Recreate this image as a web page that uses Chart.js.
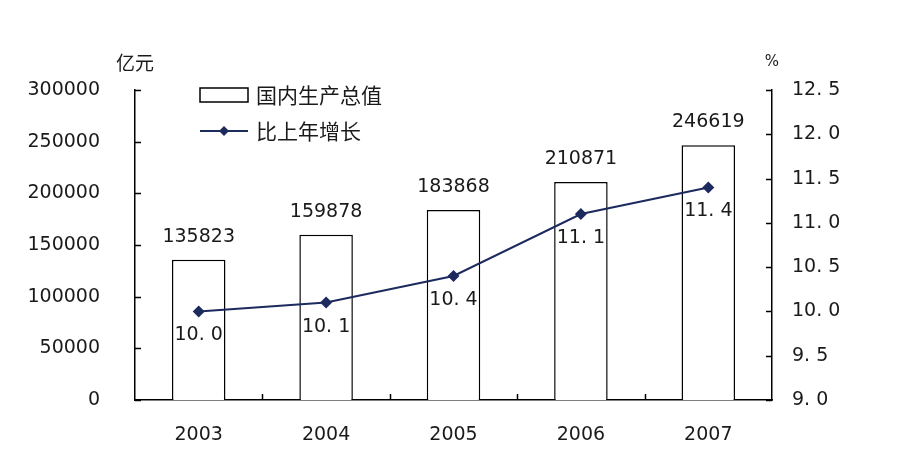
<!DOCTYPE html>
<html>
<head>
<meta charset="utf-8">
<script src="https://cdn.jsdelivr.net/npm/chart.js@4.4.1/dist/chart.umd.min.js"></script>
<style>
  html, body { margin: 0; padding: 0; background: #fff; }
  #wrap { width: 920px; height: 473px; }
</style>
</head>
<body>
<div id="wrap"><canvas id="grafica" width="920" height="473"></canvas></div>
<script>
const years = ['2003', '2004', '2005', '2006', '2007'];
const gdpValues = [135823, 159878, 183868, 210871, 246619];   // 亿元
const growthValues = [10.0, 10.1, 10.4, 11.1, 11.4];          // %
const gdpLabel = '国内生产总值';
const growthLabel = '比上年增长';

const lineColor = '#1c2a5e';
const numFont = '"DejaVu Sans", sans-serif';
const cjkFont = '"Noto Sans CJK SC", sans-serif';

function fmtPct(v) {
    return v.toFixed(1).replace('.', '. ');
}

// etiquetas, marcas interiores, leyenda y unidades
const extras = {
    id: 'extras',
    afterDatasetsDraw(chart) {
        const c = chart.ctx;
        const area = chart.chartArea;
        const y = chart.scales.y, y1 = chart.scales.y1;
        c.save();
        c.strokeStyle = '#000';
        c.lineWidth = 1.5;

        // marcas hacia dentro
        c.beginPath();
        y.ticks.forEach(t => {
            const py = Math.round(y.getPixelForValue(t.value)) + 0.5;
            c.moveTo(area.left, py); c.lineTo(area.left + 6, py);
        });
        y1.ticks.forEach(t => {
            const py = Math.round(y1.getPixelForValue(t.value)) + 0.5;
            c.moveTo(area.right, py); c.lineTo(area.right - 6, py);
        });
        const step = (area.right - area.left) / years.length;
        for (let i = 1; i < years.length; i++) {
            const px = Math.round(area.left + step * i) + 0.5;
            c.moveTo(px, area.bottom); c.lineTo(px, area.bottom - 6);
        }
        c.stroke();

        // valores
        c.fillStyle = '#1a1a1a';
        c.textAlign = 'center';
        c.textBaseline = 'middle';
        c.font = '19px ' + numFont;
        chart.getDatasetMeta(1).data.forEach((bar, i) => {
            c.fillText(String(gdpValues[i]), bar.x, bar.y - 23);
        });
        chart.getDatasetMeta(0).data.forEach((pt, i) => {
            c.fillText(fmtPct(growthValues[i]), pt.x, pt.y + 24);
        });

        // leyenda
        c.strokeRect(200, 88, 48, 14);
        c.strokeStyle = lineColor;
        c.lineWidth = 2;
        c.beginPath(); c.moveTo(200, 131); c.lineTo(248, 131); c.stroke();
        c.fillStyle = lineColor;
        c.beginPath();
        c.moveTo(224, 126); c.lineTo(229, 131); c.lineTo(224, 136); c.lineTo(219, 131);
        c.closePath(); c.fill();
        c.fillStyle = '#1a1a1a';
        c.textAlign = 'left';
        c.font = '21px ' + cjkFont;
        c.fillText(gdpLabel, 256, 95);
        c.fillText(growthLabel, 256, 131);

        // unidades
        c.font = '19px ' + cjkFont;
        c.textAlign = 'center';
        c.fillText('亿元', 135, 63);
        c.font = '15px ' + numFont;
        c.fillText('%', 772, 62);
        c.restore();
    }
};

const config = {
    data: {
        labels: years,
        datasets: [{
            type: 'line',
            label: growthLabel,
            data: growthValues,
            yAxisID: 'y1',
            borderColor: lineColor,
            backgroundColor: lineColor,
            borderWidth: 2,
            pointStyle: 'rectRot',
            pointRadius: 6,
            pointBorderWidth: 0,
            tension: 0
        }, {
            type: 'bar',
            label: gdpLabel,
            data: gdpValues,
            yAxisID: 'y',
            backgroundColor: '#fff',
            borderColor: '#000',
            borderWidth: 1.5,
            barPercentage: 0.42,
            categoryPercentage: 1
        }]
    },
    options: {
        responsive: false,
        animation: false,
        layout: { padding: { top: 90, left: 0, right: 0, bottom: 0 } },
        plugins: { legend: { display: false }, tooltip: { enabled: false } },
        scales: {
            x: {
                grid: { display: false, drawTicks: false },
                border: { color: '#000', width: 1.5 },
                ticks: { color: '#1a1a1a', font: { family: numFont, size: 19 }, padding: 24 },
                afterFit: s => { s.height = 73; }
            },
            y: {
                position: 'left',
                min: 0, max: 300000,
                grid: { display: false, drawTicks: false },
                border: { color: '#000', width: 1.5 },
                ticks: { stepSize: 50000, color: '#1a1a1a', font: { family: numFont, size: 19 }, padding: 35,
                    callback: v => String(v) },
                afterFit: s => { s.width = 135; }
            },
            y1: {
                position: 'right',
                min: 9, max: 12.5,
                grid: { display: false, drawTicks: false },
                border: { color: '#000', width: 1.5 },
                ticks: { stepSize: 0.5, color: '#1a1a1a', font: { family: numFont, size: 19 }, padding: 20,
                    callback: v => fmtPct(v) },
                afterFit: s => { s.width = 148; }
            }
        }
    },
    plugins: [extras]
};

window.myChart = new Chart(document.getElementById('grafica').getContext('2d'), config);
</script>
</body>
</html>
